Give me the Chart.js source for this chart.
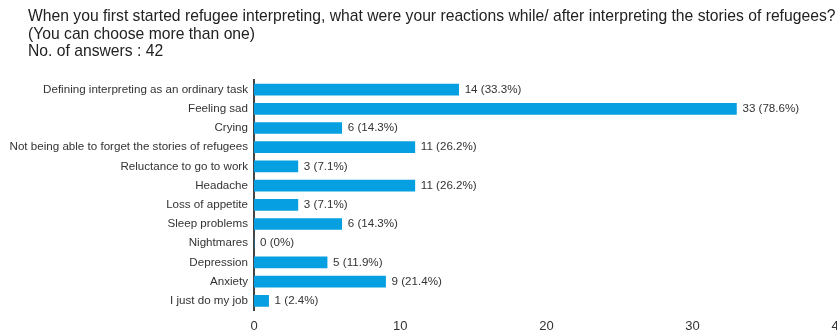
<!DOCTYPE html>
<html>
<head>
<meta charset="utf-8">
<script src="https://cdn.jsdelivr.net/npm/chart.js@4"></script>
<style>
  html, body { margin: 0; padding: 0; background: #fff; overflow: hidden; }
  #wrap { position: relative; width: 837px; height: 334px; overflow: hidden; }
  #title {
    position: absolute; left: 28px; top: 7px;
    font-family: "Liberation Sans", Arial, sans-serif;
    font-size: 15.7px; line-height: 17.5px; color: #222;
    white-space: nowrap;
  }
  #chartBox { position: absolute; left: 0; top: 0; width: 846px; height: 334px; }
</style>
</head>
<body>
<div id="wrap">
  <div id="chartBox"><canvas id="answersChart"></canvas></div>
  <div id="title">
    When you first started refugee interpreting, what were your reactions while/ after interpreting the stories of refugees?<br>
    (You can choose more than one)<br>
    No. of answers : 42
  </div>
</div>
<script>
// data
const reactions = [
    'Defining interpreting as an ordinary task',
    'Feeling sad',
    'Crying',
    'Not being able to forget the stories of refugees',
    'Reluctance to go to work',
    'Headache',
    'Loss of appetite',
    'Sleep problems',
    'Nightmares',
    'Depression',
    'Anxiety',
    'I just do my job'
];
const answerCounts = [14, 33, 6, 11, 3, 11, 3, 6, 0, 5, 9, 1];
const answerPercents = ['33.3%', '78.6%', '14.3%', '26.2%', '7.1%', '26.2%', '7.1%', '14.3%', '0%', '11.9%', '21.4%', '2.4%'];
const xTicks = [0, 10, 20, 30, 40];

const fontFamily = '"Liberation Sans", Arial, sans-serif';

// value labels at the end of each bar
const valueLabels = {
    id: 'valueLabels',
    afterDatasetsDraw(chart) {
        const ctx = chart.ctx;
        const meta = chart.getDatasetMeta(0);
        ctx.save();
        ctx.font = '11.6px ' + fontFamily;
        ctx.fillStyle = '#333';
        ctx.textAlign = 'left';
        ctx.textBaseline = 'middle';
        meta.data.forEach((bar, i) => {
            ctx.fillText(answerCounts[i] + ' (' + answerPercents[i] + ')', bar.x + 6, bar.y);
        });
        ctx.restore();
    }
};

const answersChart = new Chart(document.getElementById('answersChart'), {
    type: 'bar',
    data: {
        labels: reactions,
        datasets: [{
            data: answerCounts,
            backgroundColor: '#069fe2',
            barThickness: 11
        }]
    },
    options: {
        indexAxis: 'y',
        responsive: true,
        maintainAspectRatio: false,
        animation: false,
        layout: { padding: { top: 80, bottom: 0, left: 0, right: 0 } },
        plugins: {
            legend: { display: false },
            tooltip: { enabled: false },
            title: { display: false }
        },
        scales: {
            x: {
                min: 0,
                max: 40,
                afterBuildTicks: (scale) => { scale.ticks = xTicks.map(v => ({ value: v })); },
                grid: { display: false },
                border: { display: false },
                ticks: { color: '#333', font: { family: fontFamily, size: 13 }, padding: 0, maxRotation: 0 }
            },
            y: {
                afterFit: (scale) => { scale.width = 254; },
                grid: { display: false, drawTicks: false },
                border: { display: true, color: '#444', width: 2 },
                ticks: { color: '#333', font: { family: fontFamily, size: 11.6 }, padding: 6 }
            }
        }
    },
    plugins: [valueLabels]
});
</script>
</body>
</html>
